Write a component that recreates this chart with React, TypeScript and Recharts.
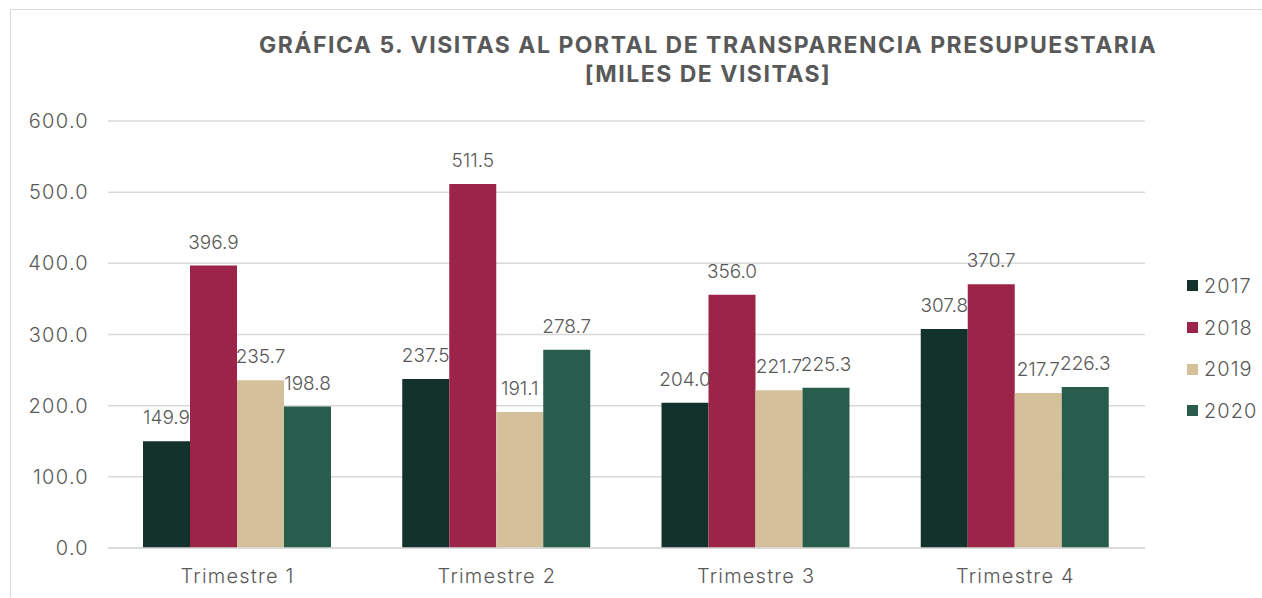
import React from "react";
import { BarChart, Bar, XAxis, YAxis, CartesianGrid, LabelList, Legend } from "recharts";

const categories = ["Trimestre 1", "Trimestre 2", "Trimestre 3", "Trimestre 4"];
const s2017 = [149.9, 237.5, 204.0, 307.8];
const s2018 = [396.9, 511.5, 356.0, 370.7];
const s2019 = [235.7, 191.1, 221.7, 217.7];
const s2020 = [198.8, 278.7, 225.3, 226.3];
const yTicks = [0, 100, 200, 300, 400, 500, 600];

const seriesList = [
  { key: "2017", values: s2017, color: "#13322B" },
  { key: "2018", values: s2018, color: "#9D2449" },
  { key: "2019", values: s2019, color: "#D4C19C" },
  { key: "2020", values: s2020, color: "#285C4D" },
];

const data = categories.map((c, i) => {
  const row: Record<string, any> = { name: c };
  seriesList.forEach((s) => (row[s.key] = s.values[i]));
  return row;
});

const FONT = "Inter, 'DejaVu Sans', sans-serif";
const TEXT = "#595959";

const LegendContent = () => (
  <div style={{ fontFamily: FONT }}>
    {seriesList.map((s) => (
      <div key={s.key} style={{ display: "flex", alignItems: "center", height: 41.7 }}>
        <div style={{ width: 11, height: 11, background: s.color, marginRight: 6 }} />
        <span style={{ fontSize: 20, color: TEXT, fontWeight: 300, letterSpacing: 1 }}>{s.key}</span>
      </div>
    ))}
  </div>
);

export default function App() {
  return (
    <div style={{ position: "absolute", left: 0, top: 0, width: 1262, height: 598, overflow: "hidden", background: "#fff" }}>
      <div
        style={{
          position: "absolute",
          left: 10,
          top: 9,
          width: 1400,
          height: 800,
          borderLeft: "1.5px solid #d9d9d9",
          borderTop: "1.5px solid #d9d9d9",
        }}
      />
      <div
        style={{
          position: "absolute",
          left: 158,
          top: 31,
          width: 1100,
          textAlign: "center",
          fontFamily: FONT,
          fontWeight: "bold",
          fontSize: 23,
          lineHeight: "29px",
          color: TEXT,
          letterSpacing: 1.5,
        }}
      >
        GRÁFICA 5. VISITAS AL PORTAL DE TRANSPARENCIA PRESUPUESTARIA
        <br />
        [MILES DE VISITAS]
      </div>
      <div style={{ position: "absolute", left: 0, top: 0 }}>
        <BarChart
          width={1262}
          height={598}
          data={data}
          margin={{ top: 121, right: 117, bottom: 0, left: 0 }}
          barCategoryGap="13.5%"
          barGap={0}
        >
          <CartesianGrid vertical={false} stroke="#d9d9d9" strokeWidth={1.5} />
          <XAxis
            dataKey="name"
            height={50}
            tickLine={false}
            tickSize={0}
            tickMargin={21}
            axisLine={{ stroke: "#d9d9d9", strokeWidth: 1.5 }}
            tick={{ fill: TEXT, fontSize: 20, fontFamily: FONT, fontWeight: 300, letterSpacing: 1.2 }}
          />
          <YAxis
            width={108}
            domain={[0, 600]}
            ticks={yTicks}
            axisLine={false}
            tickLine={false}
            tickSize={0}
            tickMargin={19}
            tickFormatter={(v: number) => v.toFixed(1)}
            tick={{ fill: TEXT, fontSize: 20, fontFamily: FONT, fontWeight: 300, letterSpacing: 1.3 }}
          />
          <Legend
            layout="vertical"
            align="center"
            verticalAlign="middle"
            wrapperStyle={{ left: 1187, top: 265, width: 80 }}
            content={<LegendContent />}
          />
          {seriesList.map((s) => (
            <Bar key={s.key} dataKey={s.key} fill={s.color} isAnimationActive={false}>
              <LabelList
                dataKey={s.key}
                position="top"
                offset={17}
                formatter={(v: any) => Number(v).toFixed(1)}
                style={{ fill: TEXT, fontSize: 19, fontFamily: FONT, fontWeight: 300 }}
              />
            </Bar>
          ))}
        </BarChart>
      </div>
    </div>
  );
}
